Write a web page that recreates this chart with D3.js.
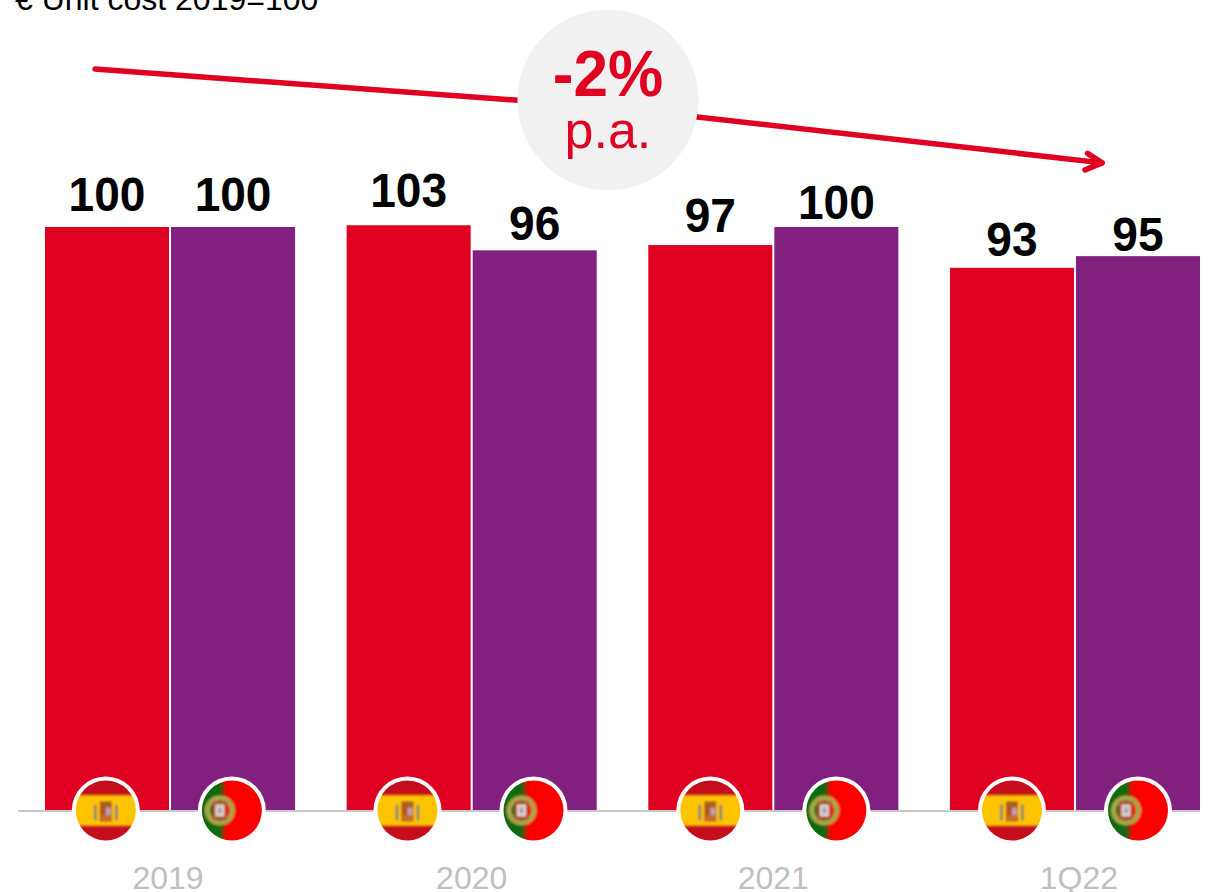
<!DOCTYPE html>
<html><head><meta charset="utf-8">
<script src="https://cdnjs.cloudflare.com/ajax/libs/d3/7.8.5/d3.min.js"></script>
<style>html,body{margin:0;padding:0;background:#fff;overflow:hidden}svg{display:block}text{font-family:"Liberation Sans",Arial,sans-serif}</style>
</head><body><div id="chart"></div>
<script>
const periods = ["2019","2020","2021","1Q22"];
const countries = ["Spain","Portugal"];
const spainBars = [100,100.3,96.9,93];
const portugalBars = [100,96,100,95];
const spainLabels = ["100","103","97","93"];
const portugalLabels = ["100","96","100","95"];
const subtitle = "€ Unit cost 2019=100";
const trendValues = [127.1,120.6,111];
const trendFractions = [0.0433,0.4874,0.9152];
const bubbleLabels = ["-2%","p.a."];

const W=1213,H=892,RED="#e00022",PURPLE="#82207f",GREY="#c0c0c0";
const svg=d3.select("#chart").append("svg").attr("width",W).attr("height",H);
const defs=svg.append("defs");
defs.append("filter").attr("id","soft").attr("x","-20%").attr("y","-20%").attr("width","140%").attr("height","140%")
  .append("feGaussianBlur").attr("stdDeviation",0.9);
defs.append("clipPath").attr("id","flagClip").append("circle").attr("r",30);
const bg=defs.append("linearGradient").attr("id","ptGrad");
bg.append("stop").attr("offset","32%").attr("stop-color","#0a6a0a");
bg.append("stop").attr("offset","42%").attr("stop-color","#fb0000");

const x=d3.scaleBand().domain(periods).range([45,1200]).paddingInner(0.171).paddingOuter(0);
const x1=d3.scaleBand().domain(countries).range([0,x.bandwidth()]).paddingInner(0.016);
const y=d3.scaleLinear().domain([0,100]).range([810,227]);
const frac=d3.scaleLinear().domain([0,1]).range([45,1200]);

const rows=periods.flatMap((p,i)=>[
 {p,c:"Spain",v:spainBars[i],t:spainLabels[i],col:RED,g:i},
 {p,c:"Portugal",v:portugalBars[i],t:portugalLabels[i],col:PURPLE,g:i}]);
// vertical gap between the bar top and the value label, as drawn in the source slide
const labelLift=[16,16,18,10,13,8,12,5];
const tickShift=[-2,0,0,4];
const flagShift=[-1.2,-1.2,0,0];

svg.selectAll("rect.bar").data(rows).join("rect").attr("class","bar")
 .attr("x",d=>x(d.p)+x1(d.c)).attr("width",x1.bandwidth())
 .attr("y",d=>y(d.v)).attr("height",d=>y(0)-y(d.v)).attr("fill",d=>d.col);

svg.selectAll("text.val").data(rows).join("text").attr("class","val")
 .attr("transform",(d,i)=>`translate(${x(d.p)+x1(d.c)+x1.bandwidth()/2},${y(d.v)-labelLift[i]}) scale(0.96,1)`)
 .attr("text-anchor","middle").attr("font-size",48).attr("font-weight","bold").attr("fill","#000").text(d=>d.t);

const axis=d3.axisBottom(x).tickSize(0).tickPadding(0);
const ax=svg.append("g").attr("transform",`translate(0,${y(0)})`).call(axis);
ax.select(".domain").remove();
ax.selectAll("text").attr("dy",null).attr("y",79).attr("x",(d,i)=>tickShift[i]).attr("font-size",32).attr("fill",GREY)
  .style("font-family",'"Liberation Sans",Arial,sans-serif');
svg.append("line").attr("x1",18).attr("x2",1200).attr("y1",y(0)+1).attr("y2",y(0)+1).attr("stroke","#c8c8c8").attr("stroke-width",2);

// flags
const flags=svg.selectAll("g.flag").data(rows).join("g").attr("class","flag")
 .attr("transform",d=>`translate(${x(d.p)+x1(d.c)+x1.bandwidth()/2+flagShift[d.g]},${y(0)+0.5})`);
flags.append("circle").attr("r",34).attr("fill","#fff");
const inner=flags.append("g").attr("clip-path","url(#flagClip)").append("g").attr("filter","url(#soft)");
inner.each(function(d){
 const g=d3.select(this);
 const r=(a,b,w,h,f)=>g.append("rect").attr("x",a).attr("y",b).attr("width",w).attr("height",h).attr("fill",f);
 if(d.c==="Spain"){
  r(-34,-34,68,68,"#c60b1e");
  r(-34,-15,68,30,"#ffc400");
  r(-12,-6,3,16,"#8f8a66");
  r(9,-6,3,16,"#8f8a66");
  r(-6,-9,12,20,"#b3541f");
  r(-5,-9,10,4,"#a8621c");
  r(0,-3,5,8,"#b9a3ad");
  r(-5,5,10,5,"#c9702a");
 } else {
  r(-34,-34,68,68,"url(#ptGrad)");
  g.append("circle").attr("cx",-12).attr("r",12.5).attr("fill","none").attr("stroke","#a9a64a").attr("stroke-width",5);
  r(-19,-9,14,18,"#b8482e");
  r(-16.5,-6,9,12,"#ddd6d2");
  r(-14,-3,4,6,"#a9a0b0");
 }
});

// subtitle
svg.append("text").attr("x",15).attr("y",10).attr("font-size",32).attr("fill","#000").text(subtitle);

// trend arrow
const trend=trendFractions.map((f,i)=>[frac(f),y(trendValues[i])]);
svg.append("path").attr("d",d3.line()(trend)).attr("fill","none").attr("stroke",RED).attr("stroke-width",5.5).attr("stroke-linecap","round").attr("stroke-linejoin","round");
const tip=trend[2];
svg.append("path").attr("d",d3.line()([[tip[0]-14.5,tip[1]-9.5],tip,[tip[0]-17,tip[1]+7]])).attr("fill","none").attr("stroke",RED).attr("stroke-width",5.5).attr("stroke-linecap","round").attr("stroke-linejoin","round");

// bubble
const bx=frac(trendFractions[1]),by=y(121.8);
svg.append("circle").attr("cx",bx).attr("cy",by).attr("r",90.5).attr("fill","#f1f1f1");
svg.append("text").attr("transform",`translate(${bx},${by-4}) scale(0.97,1)`).attr("text-anchor","middle").attr("font-size",64).attr("font-weight","bold").attr("fill",RED).text(bubbleLabels[0]);
svg.append("text").attr("x",bx).attr("y",by+48).attr("text-anchor","middle").attr("font-size",52).attr("fill",RED).text(bubbleLabels[1]);
</script></body></html>
